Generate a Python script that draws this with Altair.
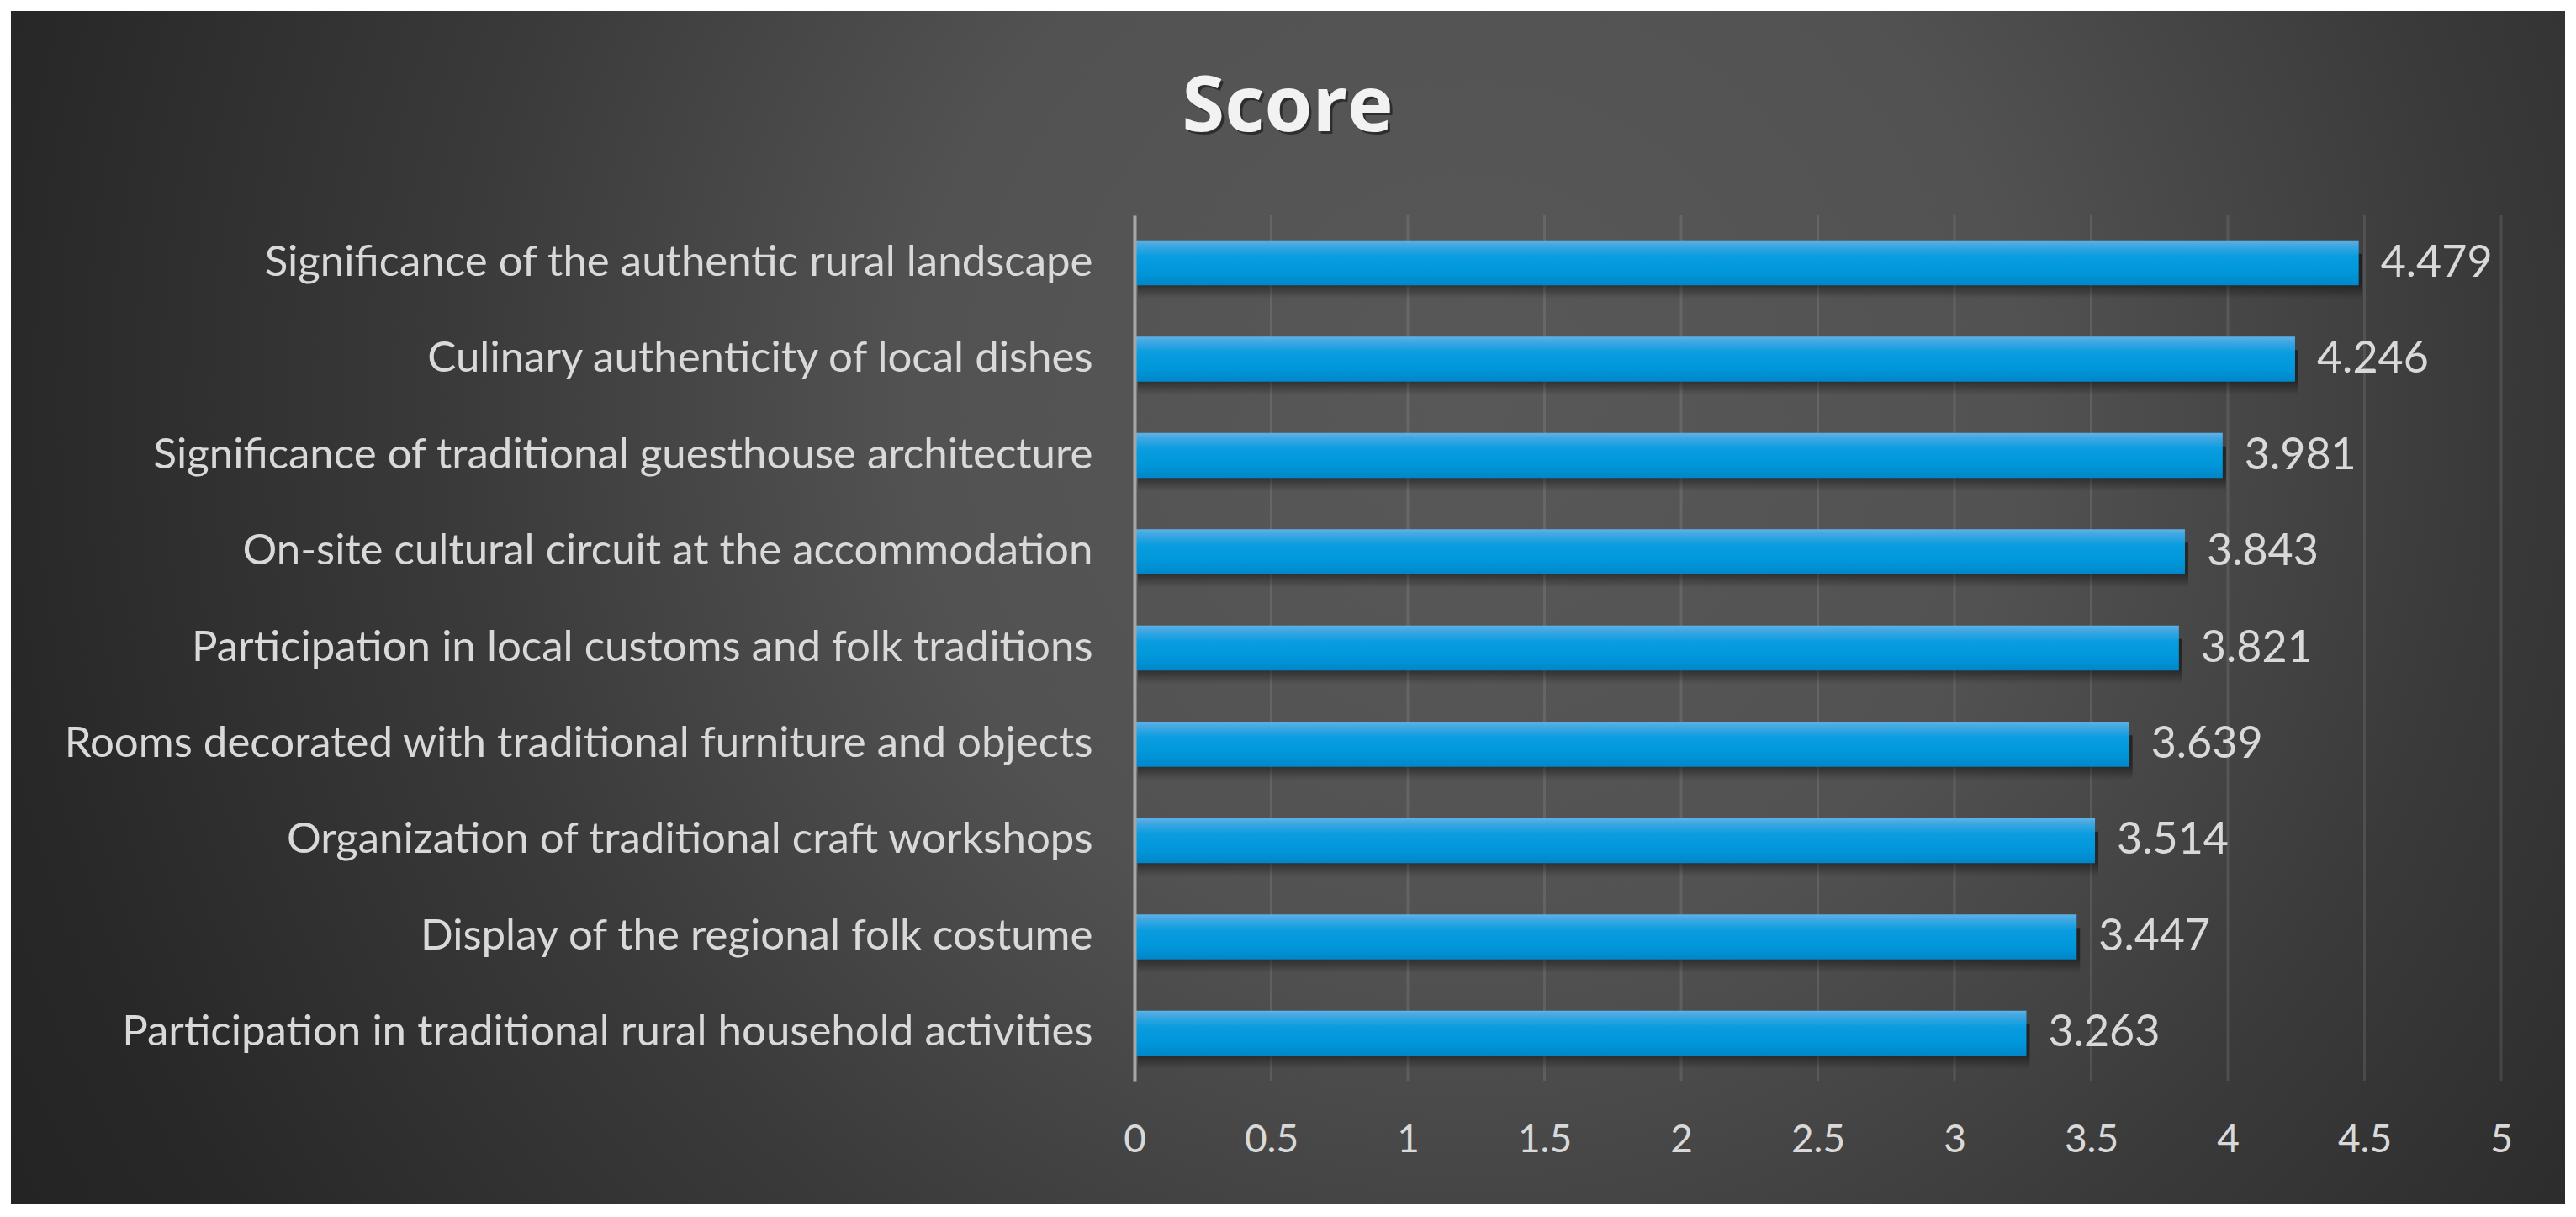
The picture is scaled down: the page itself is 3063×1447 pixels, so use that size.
import altair as alt
import pandas as pd

categories = [
    "Significance of the authentic rural landscape",
    "Culinary authenticity of local dishes",
    "Significance of traditional guesthouse architecture",
    "On-site cultural circuit at the accommodation",
    "Participation in local customs and folk traditions",
    "Rooms decorated with traditional furniture and objects",
    "Organization of traditional craft workshops",
    "Display of the regional folk costume\u00a0",
    "Participation in traditional rural household activities",
]
scores = [4.479, 4.246, 3.981, 3.843, 3.821, 3.639, 3.514, 3.447, 3.263]
x_ticks = [0, 0.5, 1, 1.5, 2, 2.5, 3, 3.5, 4, 4.5, 5]
title_text = "Score"

W, H = 1625, 1029
FONT = "Lato"
LABEL_COLOR = "#d9d9d9"

df = pd.DataFrame({"category": categories, "score": scores})
ticks_df = pd.DataFrame({"t": x_ticks})

x_scale = alt.Scale(domain=[0, 5], nice=False, zero=True)
y_scale = alt.Scale(domain=categories, paddingInner=0.533, paddingOuter=0.26)

x_axis = alt.Axis(values=x_ticks, title=None, grid=False, domain=False, ticks=False,
                  labelFont=FONT, labelFontSize=46, labelColor=LABEL_COLOR,
                  labelPadding=70, labelBaseline="middle", labelFlush=False,
                  format="~g", zindex=1)
y_axis = alt.Axis(title=None, grid=False, ticks=False, domain=True,
                  domainColor="#a6a6a6", domainWidth=4,
                  labelFont=FONT, labelFontSize=51, labelColor=LABEL_COLOR,
                  labelPadding=50, labelLimit=0, zindex=1)

bg_gradient = alt.RadialGradient(
    gradient="radial", x1=0.57, y1=0.42, r1=0, x2=0.57, y2=0.42, r2=0.72,
    stops=[
        alt.GradientStop(color="#585858", offset=0),
        alt.GradientStop(color="#525252", offset=0.3),
        alt.GradientStop(color="#3a3a3a", offset=0.55),
        alt.GradientStop(color="#282828", offset=0.8),
        alt.GradientStop(color="#202020", offset=1),
    ],
)
bar_gradient = alt.LinearGradient(
    gradient="linear", x1=0, y1=0, x2=0, y2=1,
    stops=[
        alt.GradientStop(color="#5cb3e8", offset=0),
        alt.GradientStop(color="#44a8e2", offset=0.1),
        alt.GradientStop(color="#0a9de0", offset=0.35),
        alt.GradientStop(color="#0097da", offset=0.7),
        alt.GradientStop(color="#0087c9", offset=1),
    ],
)
shadow_gradient = alt.LinearGradient(
    gradient="linear", x1=0, y1=0, x2=0, y2=1,
    stops=[
        alt.GradientStop(color="rgba(0,0,0,0.5)", offset=0),
        alt.GradientStop(color="rgba(0,0,0,0.45)", offset=0.68),
        alt.GradientStop(color="rgba(0,0,0,0)", offset=1),
    ],
)

x_enc = alt.X("score:Q", scale=x_scale, axis=x_axis)
y_enc = alt.Y("category:N", scale=y_scale, sort=categories, axis=y_axis)

background = alt.Chart(pd.DataFrame({"a": [0]})).mark_rect(fill=bg_gradient).encode(
    x=alt.value(-1336), x2=alt.value(1701), y=alt.value(-243), y2=alt.value(1175)
)

grid = alt.Chart(ticks_df).mark_rule(color="white", opacity=0.1, strokeWidth=3).encode(
    x=alt.X("t:Q", scale=x_scale, axis=x_axis), y=alt.value(0), y2=alt.value(H)
)

shadow = alt.Chart(df).mark_bar(fill=shadow_gradient, yOffset=16, xOffset=4).encode(
    x=x_enc, y=y_enc
)

bars = alt.Chart(df).mark_bar(fill=bar_gradient).encode(x=x_enc, y=y_enc)

labels = alt.Chart(df).mark_text(
    align="left", baseline="middle", dx=26, font=FONT, fontSize=52, color=LABEL_COLOR
).encode(x=x_enc, y=y_enc, text=alt.Text("score:Q", format=".3f"))

title_shadow = alt.Chart(pd.DataFrame({"t": [title_text]})).mark_text(
    font="Open Sans", fontWeight="bold", fontSize=92, color="black", opacity=0.45,
    align="center", baseline="alphabetic"
).encode(x=alt.value(185), y=alt.value(-97), text="t:N")

title = alt.Chart(pd.DataFrame({"t": [title_text]})).mark_text(
    font="Open Sans", fontWeight="bold", fontSize=92, color="#f2f2f2",
    align="center", baseline="alphabetic"
).encode(x=alt.value(182), y=alt.value(-100), text="t:N")

chart = alt.layer(background, grid, shadow, bars, labels, title_shadow, title).properties(
    width=W, height=H,
    autosize=alt.AutoSizeParams(type="none"),
    padding={"left": 1341, "top": 248, "right": 78, "bottom": 148},
).configure_view(stroke=None)

chart.save("out.html", embed_options={"renderer": "svg", "actions": False})
